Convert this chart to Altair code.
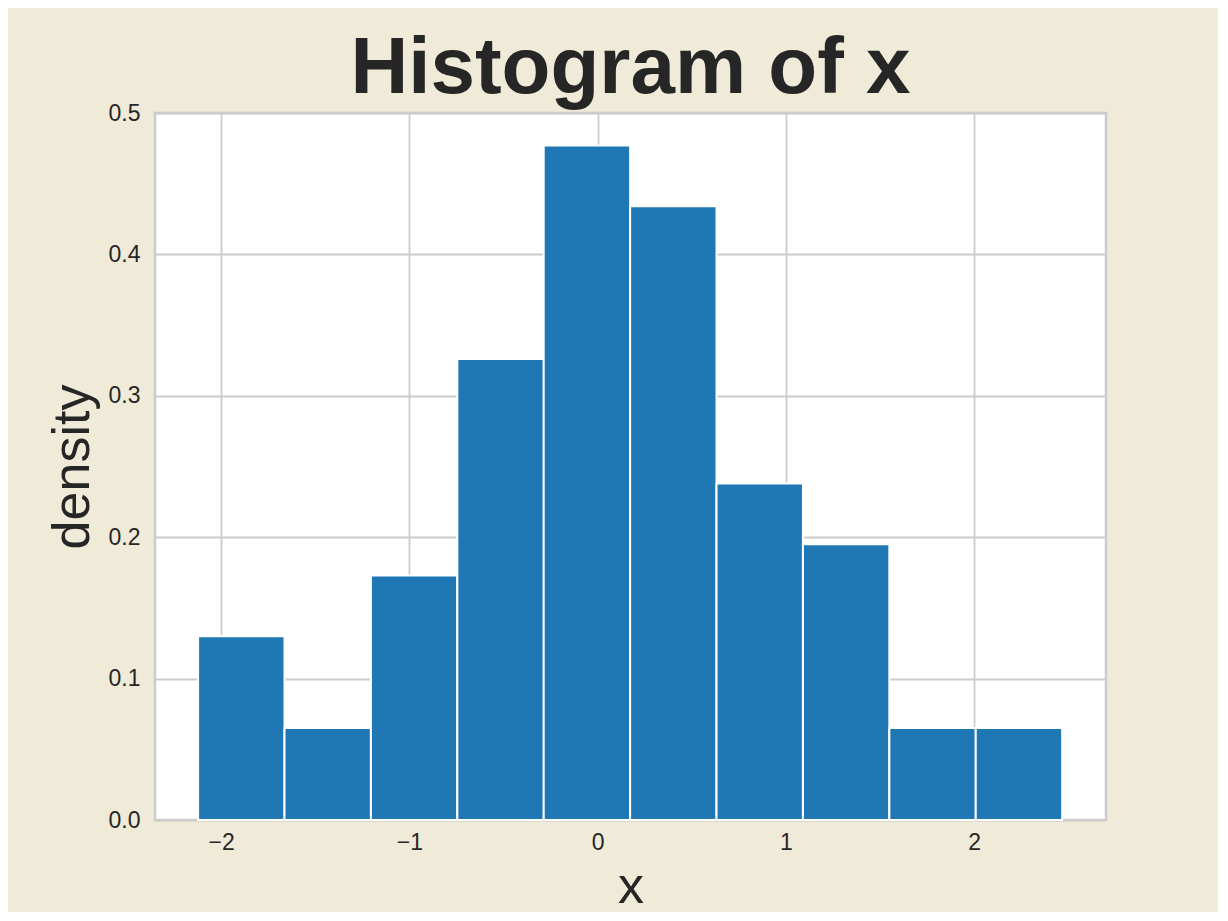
import altair as alt
import pandas as pd

# Histogram bin edges and density per bin
bin_left = [-2.122, -1.663, -1.204, -0.745, -0.286, 0.173, 0.632, 1.091, 1.550, 2.009]
bin_right = [-1.663, -1.204, -0.745, -0.286, 0.173, 0.632, 1.091, 1.550, 2.009, 2.468]
density = [0.130, 0.065, 0.173, 0.326, 0.477, 0.434, 0.238, 0.195, 0.065, 0.065]

x_ticks = [-2, -1, 0, 1, 2]
y_ticks = [0.0, 0.1, 0.2, 0.3, 0.4, 0.5]

df = pd.DataFrame({"left": bin_left, "right": bin_right, "density": density})

FONT = "Liberation Sans"
TXT = "#262626"
W, H = 951, 707

chart = (
    alt.Chart(df)
    .mark_rect(color="#1f77b4", stroke="white", strokeWidth=2)
    .encode(
        x=alt.X(
            "left:Q",
            scale=alt.Scale(domain=[-2.351, 2.701], nice=False, zero=False),
            axis=alt.Axis(
                values=x_ticks,
                format="d",
                title="x",
                titleFontSize=52,
                titleFontWeight="normal",
                titleColor=TXT,
                titleFont=FONT,
                titleBaseline="alphabetic",
                titleX=W / 2,
                titleY=82,
                titleAlign="center",
                labelFontSize=23,
                labelFont=FONT,
                labelColor=TXT,
                labelBaseline="alphabetic",
                labelPadding=29,
                ticks=False,
                domain=False,
                grid=True,
                gridColor="#cccccc",
                gridWidth=1.8,
            ),
        ),
        x2="right:Q",
        y=alt.Y(
            "density:Q",
            scale=alt.Scale(domain=[0, 0.5], nice=False),
            axis=alt.Axis(
                values=y_ticks,
                format=".1f",
                title="density",
                titleFontSize=52,
                titleFontWeight="normal",
                titleColor=TXT,
                titleFont=FONT,
                titleAngle=-90,
                titleBaseline="alphabetic",
                titleAlign="center",
                titleX=-67,
                titleY=H / 2,
                labelFontSize=23,
                labelFont=FONT,
                labelColor=TXT,
                labelPadding=15,
                ticks=False,
                domain=False,
                grid=True,
                gridColor="#cccccc",
                gridWidth=1.8,
            ),
        ),
        y2=alt.datum(0),
    )
    .properties(
        width=W,
        height=H,
        title=alt.TitleParams(
            "Histogram of x",
            fontSize=80,
            fontWeight="bold",
            font=FONT,
            color=TXT,
            anchor="middle",
            baseline="bottom",
            offset=1,
            dy=89,
        ),
        background="#f0ead8",
        autosize=alt.AutoSizeParams(type="none"),
        padding={"left": 147, "top": 105, "right": 112, "bottom": 92},
    )
    .configure_view(fill="white", stroke="#cccccc", strokeWidth=2.5)
)

chart.save("out.html", embed_options={"renderer": "svg", "actions": False})
